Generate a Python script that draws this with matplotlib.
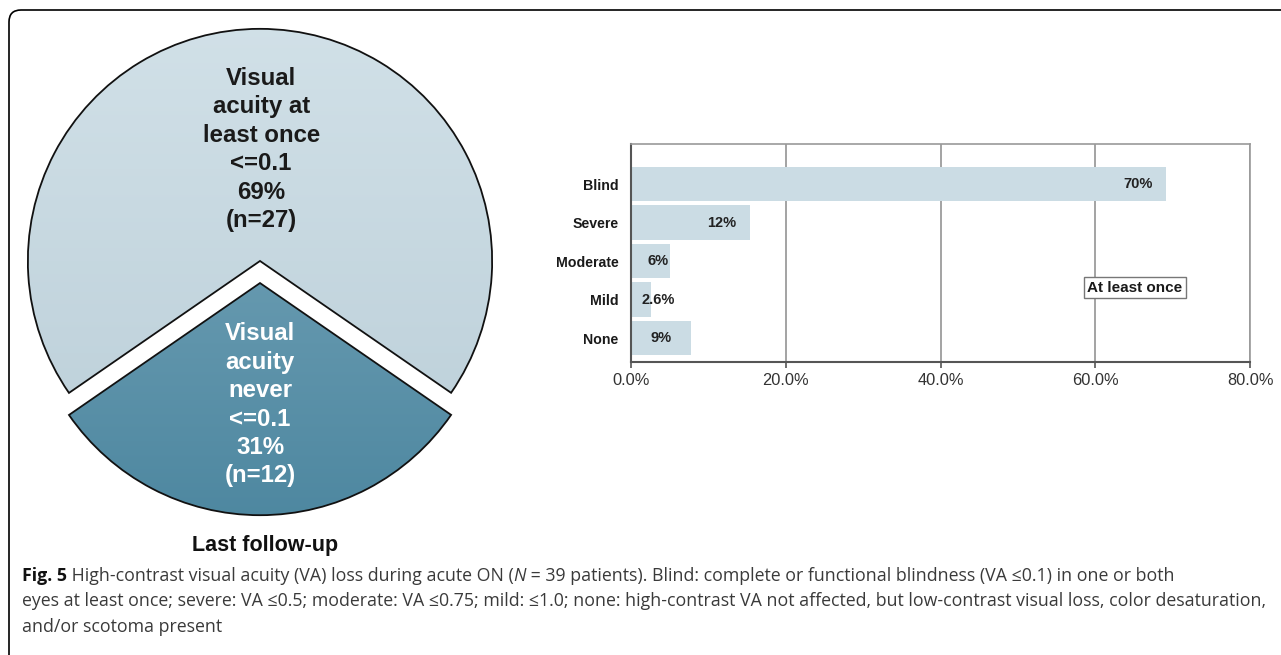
import matplotlib
matplotlib.use('Agg')
from matplotlib import pyplot as plt
from matplotlib.colors import LinearSegmentedColormap
from matplotlib.patches import FancyBboxPatch
import numpy as np

W, H = 1281, 655

# pie: last follow-up
pie_counts = [27, 12]
pie_labels = ['Visual\nacuity at\nleast once\n<=0.1\n69%\n(n=27)',
              'Visual\nacuity\nnever\n<=0.1\n31%\n(n=12)']

# bars: at least once
categories = ['Blind', 'Severe', 'Moderate', 'Mild', 'None']
values = [69.2, 15.4, 5.1, 2.6, 7.7]
bar_labels = ['70%', '12%', '6%', '2.6%', '9%']
xticks = [0, 20, 40, 60, 80]

caption = [
    [('Fig. 5', dict(fontweight='bold', color='#111111')),
     (' High-contrast visual acuity (VA) loss during acute ON (', {}),
     ('N', dict(style='italic')),
     (' = 39 patients). Blind: complete or functional blindness (VA \u22640.1) in one or both', {})],
    [('eyes at least once; severe: VA \u22640.5; moderate: VA \u22640.75; mild: \u22641.0; none: '
      'high-contrast VA not affected, but low-contrast visual loss, color desaturation,', {})],
    [('and/or scotoma present', {})],
]

plt.rcParams['font.family'] = ['Liberation Sans', 'DejaVu Sans']

fig = plt.figure(figsize=(W / 100, H / 100), dpi=100)

# frame round the whole figure
frame = FancyBboxPatch((9 / 100, -0.4), 13.5, (H - 10) / 100 + 0.4,
                       boxstyle='round,pad=0,rounding_size=0.12',
                       transform=fig.dpi_scale_trans, fc='none', ec='black', lw=1.2)
fig.add_artist(frame)

# ---- pie ----
ax_pie = fig.add_axes([0, 0.2046, 520 / W, 520 / H])
wedges, _ = ax_pie.pie(pie_counts, startangle=-34.6, explode=[0, 0.095],
                       wedgeprops=dict(ec='#111111', lw=1.3, fc='none'))
grads = [('#d3e2e9', '#b9cdd7'), ('#82aec1', '#4c869f')]
g = np.linspace(1, 0, 256).reshape(-1, 1)
for w, (top, bot) in zip(wedges, grads):
    cmap = LinearSegmentedColormap.from_list('g', [bot, top])
    im = ax_pie.imshow(g, extent=(-1.2, 1.2, -1.2, 1.2), cmap=cmap, aspect='auto',
                       zorder=1, vmin=0, vmax=1)
    im.set_clip_path(w)
    w.set_zorder(2)
ax_pie.text(0.005, 0.48, pie_labels[0], ha='center', va='center', fontsize=17.3,
            fontweight='bold', linespacing=1.3, color='#1a1a1a', zorder=3)
ax_pie.text(0.0, -0.62, pie_labels[1], ha='center', va='center', fontsize=17.3,
            fontweight='bold', linespacing=1.3, color='white', zorder=3)
ax_pie.set_xlim(-1.12, 1.12)
ax_pie.set_ylim(-1.12, 1.12)
ax_pie.axis('off')

fig.text(265 / W, 1 - 546 / H, 'Last follow-up', ha='center', va='center',
         fontsize=15.5, fontweight='bold', color='#111111')

# ---- bars ----
ax = fig.add_axes([631 / W, 1 - 362 / H, (1250 - 631) / W, (362 - 144) / H])
ypos = np.arange(len(categories))[::-1]
ax.barh(ypos, values, height=0.9, color='#cbdce4', zorder=2)
for y, v, lab in zip(ypos, values, bar_labels):
    if v > 10:
        ax.text(v - 1.8, y, lab, ha='right', va='center', fontsize=10.5,
                fontweight='bold', color='#222222', zorder=3)
    else:
        ax.text(max(v / 2, 3.5), y, lab, ha='center', va='center', fontsize=10.5,
                fontweight='bold', color='#222222', zorder=3)
ax.set_xlim(0, 80)
ax.set_ylim(-0.62, 5.04)
ax.set_yticks(ypos)
ax.set_yticklabels(categories, fontsize=10.2, fontweight='bold', color='#1a1a1a')
ax.set_xticks(xticks)
ax.set_xticklabels(['%.1f%%' % t for t in xticks], fontsize=11.8, color='#333333')
ax.tick_params(axis='y', length=0, pad=9)
ax.tick_params(axis='x', length=4, width=1.2, color='#555555', pad=4)
ax.grid(axis='x', color='#8a8a8a', lw=1.1, zorder=1)
for s in ['left', 'bottom']:
    ax.spines[s].set_color('#555555')
    ax.spines[s].set_linewidth(1.5)
for s in ['top', 'right']:
    ax.spines[s].set_color('#999999')
    ax.spines[s].set_linewidth(1.2)
ax.text(65.1, 1.31, 'At least once', ha='center', va='center', fontsize=11,
        fontweight='bold', color='#1a1a1a', zorder=4,
        bbox=dict(boxstyle='square,pad=0.22', fc='white', ec='#777777', lw=1))

# ---- caption ----
renderer = fig.canvas.get_renderer()
for i, line in enumerate(caption):
    x = 22
    for s, kw in line:
        props = dict(fontsize=12.8, color='#3a3a3a', family=['Open Sans', 'DejaVu Sans'])
        props.update(kw)
        t = fig.text(x / W, 1 - (581 + 25.5 * i) / H, s, ha='left', va='baseline', **props)
        x += t.get_window_extent(renderer=renderer).width

plt.savefig('out.png', dpi=100)
